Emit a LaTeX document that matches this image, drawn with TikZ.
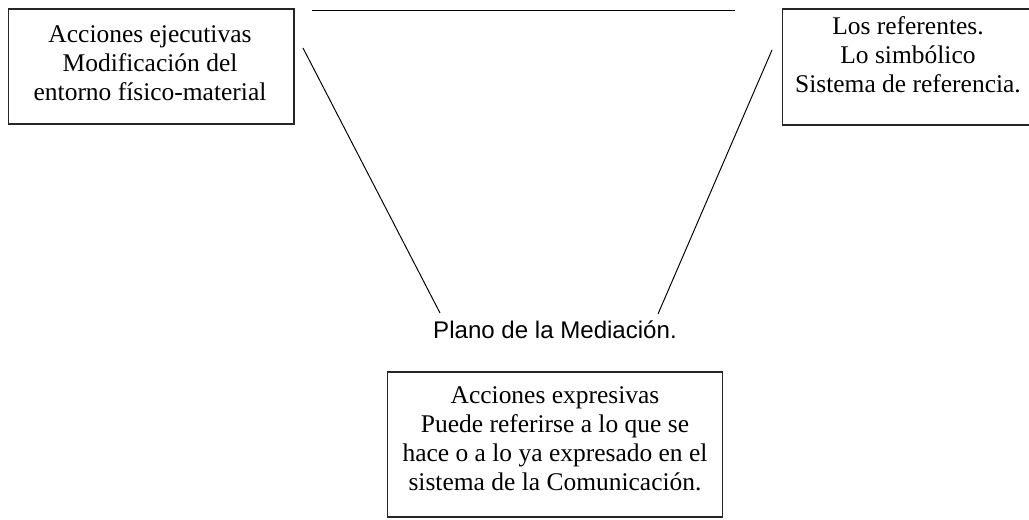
\documentclass[tikz,border=0pt]{standalone}
\usepackage{fontspec}
\setmainfont{Liberation Serif}
\newfontfamily\planofont{Liberation Sans}
\usetikzlibrary{positioning}
\tikzset{
    caja/.style={draw=black!85, rectangle, line width=0.6pt, inner sep=0pt},
    texto/.style={align=center, inner sep=0pt, font=\fontsize{14.5}{16.5}\selectfont},
    linea/.style={line width=0.55pt}
}
\begin{document}
\begin{tikzpicture}
                [x=0.02cm, y=-0.02cm]
                \useasboundingbox (0,0) rectangle (1029,520);
                \node[caja, minimum width=5.72cm, minimum height=2.3cm] (ejec) at (151,66.5) {};
                \node[caja, minimum width=5.0cm, minimum height=2.32cm] (ref) at (907,67) {};
                \node[caja, minimum width=6.72cm, minimum height=2.9cm] (expr) at (555,444.5) {};

                \node[texto] (ejectxt) at (150,63) {Acciones ejecutivas\\Modificación del\\entorno físico-material};
                \node[texto] (reftxt) at (908,55) {Los referentes.\\Lo simbólico\\Sistema de referencia.};
                \node[texto] (exprtxt) at (555,439) {Acciones expresivas\\Puede referirse a lo que se\\hace o a lo ya expresado en el\\sistema de la Comunicación.};

                \node[inner sep=0pt, font=\planofont\fontsize{13.7}{16}\selectfont] (plano) at (555,330) {Plano de la Mediación.};

                \coordinate (a1) at (303,48);
                \coordinate (a2) at (440,313);
                \coordinate (b1) at (772,50);
                \coordinate (b2) at (658,314);
                \coordinate (t1) at (312,10);
                \coordinate (t2) at (735,10);

                \draw[linea] (a1) -- (a2);
                \draw[linea] (b1) -- (b2);
                \draw[linea] (t1) -- (t2);
            \end{tikzpicture}
\end{document}
